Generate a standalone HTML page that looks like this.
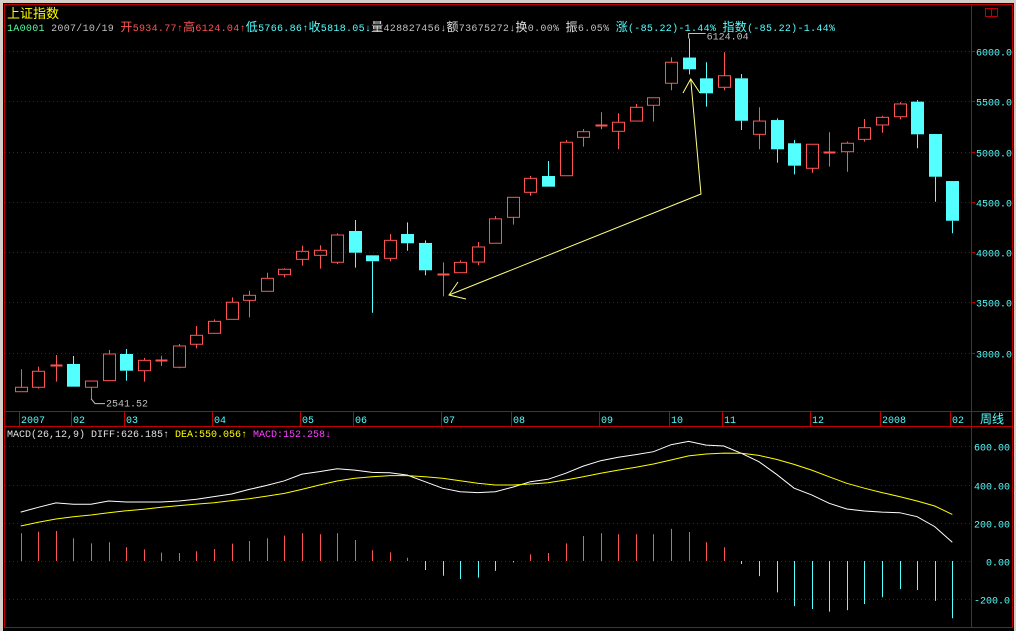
<!DOCTYPE html>
<html><head><meta charset="utf-8">
<style>
html,body{margin:0;padding:0;background:#000;}
body{width:1016px;height:631px;overflow:hidden;position:relative;}
svg{position:absolute;left:0;top:0;}
text{font-family:"Liberation Mono","Noto Sans CJK SC",monospace;font-size:10px;}
.cjk{font-family:"Liberation Mono","Noto Sans CJK SC",sans-serif;font-size:12px;}
</style></head>
<body>
<svg id="chart" width="1016" height="631">
<rect x="0" y="0" width="1016" height="631" fill="#000"/>
<rect x="0" y="0" width="1016" height="3" fill="#d4d0c8"/>
<rect x="0" y="0" width="3" height="631" fill="#d4d0c8"/>
<rect x="1014" y="0" width="2" height="631" fill="#d4d0c8"/>
<g id="frame" stroke="#c00000" stroke-width="1" fill="none">
<line x1="4" y1="4.5" x2="1013" y2="4.5"/>
<line x1="4.5" y1="4" x2="4.5" y2="628"/>
<line x1="1012.5" y1="4" x2="1012.5" y2="628"/>
<line x1="971.5" y1="4" x2="971.5" y2="628"/>
<line x1="4" y1="411.5" x2="1013" y2="411.5"/>
<line x1="4" y1="426.5" x2="1013" y2="426.5"/>
<line x1="4" y1="627.5" x2="1013" y2="627.5"/>
<rect x="985.5" y="8.5" width="12" height="8"/>
<line x1="991.5" y1="8" x2="991.5" y2="17"/>
</g>
<text x="7" y="18" class="cjk" style="font-size:13px" fill="#ffff00">上证指数</text>
<text x="7" y="31" textLength="828" lengthAdjust="spacing"><tspan fill="#54ff9f">1A0001</tspan><tspan fill="#c0c0c0"> 2007/10/19 </tspan><tspan fill="#ff5454" class="cjk">开</tspan><tspan fill="#ff5454">5934.77↑</tspan><tspan fill="#ff5454" class="cjk">高</tspan><tspan fill="#ff5454">6124.04↑</tspan><tspan fill="#54ffff" class="cjk">低</tspan><tspan fill="#54ffff">5766.86↑</tspan><tspan fill="#54ffff" class="cjk">收</tspan><tspan fill="#54ffff">5818.05↓</tspan><tspan fill="#e0e0e0" class="cjk">量</tspan><tspan fill="#c0c0c0">428827456↓</tspan><tspan fill="#e0e0e0" class="cjk">额</tspan><tspan fill="#c0c0c0">73675272↓</tspan><tspan fill="#e0e0e0" class="cjk">换</tspan><tspan fill="#c0c0c0">0.00% </tspan><tspan fill="#e0e0e0" class="cjk">振</tspan><tspan fill="#c0c0c0">6.05% </tspan><tspan fill="#54ffff" class="cjk">涨</tspan><tspan fill="#54ffff">(-85.22)-1.44% </tspan><tspan fill="#54ffff" class="cjk">指数</tspan><tspan fill="#54ffff">(-85.22)-1.44%</tspan></text>
<text x="7" y="437"><tspan fill="#e0e0e0">MACD(26,12,9) DIFF:626.185↑</tspan><tspan fill="#ffff00"> DEA:550.056↑</tspan><tspan fill="#ff40ff"> MACD:152.258↓</tspan></text>
<text x="980" y="423" class="cjk" fill="#54ffff">周线</text>
<g id="grid"></g><g id="axes"></g><g id="candles"></g><g id="macd"></g><g id="notes"></g>
</svg>
<script>
const opens =[2610,2654,2860,2886,2654,2720,2985,2819,2925,2853,3082,3191,3330,3519,3609,3774,3927,3967,3898,4209,3967,3937,4179,4090,3778,3794,3900,4087,4345,4594,4756,4759,5141,5250,5201,5303,5460,5679,5934.77,5728,5639,5728,5171,5313,5082,4833,4992,4998,5121,5264,5346,5496,5174,4706];
const closes=[2654,2813,2875,2660,2716,2985,2819,2922,2925,3065,3171,3310,3500,3569,3738,3828,4007,4017,4169,3993,3908,4116,4087,3818,3778,3897,4050,4330,4544,4733,4650,5092,5197,5262,5291,5440,5535,5888,5818.05,5579,5754,5306,5303,5022,4859,5072,4992,5082,5237,5340,5473,5171,4749,4311];
const highs =[2833,2859,2975,2965,2716,3025,3035,2946,2968,3085,3264,3330,3549,3615,3794,3838,4063,4067,4186,4318,3967,4179,4295,4116,3897,3917,4100,4358,4544,4756,4906,5115,5224,5390,5380,5473,5535,5937,6124.04,5888,5987,5771,5440,5330,5115,5072,5191,5098,5323,5356,5490,5513,5174,4706];
const lows  =[2610,2640,2710,2660,2541.52,2720,2720,2710,2866,2843,3042,3191,3330,3350,3609,3748,3864,3834,3880,3844,3396,3907,4013,3768,3559,3794,3870,4087,4272,4560,4650,4759,5048,5221,5022,5303,5297,5609,5766.86,5446,5609,5214,5022,4889,4773,4789,4849,4799,5098,5187,5320,5032,4500,4186];
const diff=[256,281,304,297,297,314,309,309,309,314,323,337,351,375,396,420,455,468,483,476,464,462,450,415,381,363,358,363,387,415,428,459,497,525,543,557,572,609,626,607,602,564,520,454,381,346,302,272,262,256,253,232,180,98];
const dea =[183,203,220,232,241,253,263,271,281,290,298,305,316,326,340,354,375,398,419,433,441,447,447,441,433,420,407,398,398,403,410,424,441,459,476,491,508,529,550,560,565,564,553,532,506,476,441,407,381,358,337,314,288,244];
const macdBars=[145,154,157,119,92,98,72,61,44,42,51,63,91,105,119,133,145,140,145,110,56,45,17,-47,-77,-94,-87,-52,-7,35,42,92,131,145,140,140,140,168,152,98,72,-16,-79,-164,-236,-251,-265,-257,-225,-190,-147,-152,-209,-300];
const priceTicks=[6000,5500,5000,4500,4000,3500,3000];
const priceTickLabels=["6000.0","5500.0","5000.0","4500.0","4000.0","3500.0","3000.0"];
const macdTicks=[600,400,200,0,-200];
const macdTickLabels=["600.00","400.00","200.00","0.00","-200.0"];
const dateLabels=["2007","02","03","04","05","06","07","08","09","10","11","12","2008","02"];
const dateIdx=[0,3,6,11,16,19,24,28,33,37,40,45,49,53];

const NS="http://www.w3.org/2000/svg";
const xI=i=>20.7+i*17.577;
const yP=v=>51+(6000-v)*0.1005;
const yM=v=>561-v*0.191;
function mk(tag,attrs,parent){const e=document.createElementNS(NS,tag);for(const k in attrs)e.setAttribute(k,attrs[k]);parent.appendChild(e);return e;}
const G=id=>document.getElementById(id);
const RED="#ff5454",CYAN="#54ffff";

priceTicks.forEach((t,k)=>{
  const y=Math.round(yP(t))+0.5;
  const l=mk('line',{x1:5,x2:971,y1:y,y2:y,stroke:'#900000','stroke-dasharray':'1,3'},G('grid'));
  
  
  const tk=mk('line',{x1:971,x2:975,y1:y,y2:y,stroke:'#c00000'},G('axes'));
  
  
  const tx=mk('text',{x:976,y:y+4,fill:CYAN},G('axes'));tx.textContent=priceTickLabels[k];
  
  
});
macdTicks.forEach((t,k)=>{
  const y=Math.round(yM(t))+0.5;
  const l=mk('line',{x1:5,x2:971,y1:y,y2:y,stroke:'#900000','stroke-dasharray':'1,3'},G('grid'));
  
  
  const tx=mk('text',{x:1010,y:y+4,fill:CYAN,'text-anchor':'end'},G('axes'));tx.textContent=macdTickLabels[k];
  
  
});
dateLabels.forEach((d,k)=>{
  const x=Math.round(xI(dateIdx[k]));
  const l=mk('line',{x1:x-1.5,x2:x-1.5,y1:412,y2:426,stroke:'#c00000'},G('axes'));
  
  
  const tx=mk('text',{x:x,y:423,fill:CYAN},G('axes'));tx.textContent=d;
  
  
});

opens.forEach((o,i)=>{
  const c=closes[i],h=highs[i],lo=lows[i];
  const x=Math.round(xI(i))+0.5;
  const up=c>=o, col=up?RED:CYAN;
  const g=mk('g',{},G('candles'));
  
  
  const top=yP(Math.max(o,c)),bot=yP(Math.min(o,c));
  mk('line',{x1:x,x2:x,y1:yP(h),y2:top,stroke:col},g);
  mk('line',{x1:x,x2:x,y1:bot,y2:yP(lo),stroke:col},g);
  if(bot-top<2){mk('line',{x1:x-6,x2:x+6,y1:Math.round(top)+0.5,y2:Math.round(top)+0.5,stroke:col,'stroke-width':up?2:1},g);}
  else if(up){mk('rect',{x:x-6,y:top,width:12,height:bot-top,fill:'none',stroke:col},g);}
  else{mk('rect',{x:x-6.5,y:top,width:13,height:bot-top,fill:col},g);}
});

macdBars.forEach((v,i)=>{
  const x=Math.round(xI(i))+0.5;
  const b=mk('line',{x1:x,x2:x,y1:yM(0),y2:yM(v),stroke:v>=0?RED:CYAN},G('macd'));
  
  
});
const pl=(arr)=>arr.map((v,i)=>xI(i).toFixed(1)+','+yM(v).toFixed(1)).join(' ');
const dl=mk('polyline',{points:pl(diff),fill:'none',stroke:'#ffffff'},G('macd'));


const el=mk('polyline',{points:pl(dea),fill:'none',stroke:'#ffff00'},G('macd'));



const n=G('notes');
const lowI=4,hiI=38;
const lx=xI(lowI),ly=yP(lows[lowI]);
mk('polyline',{points:`${lx},${ly} ${lx+4},${ly+5} ${lx+14},${ly+5}`,fill:'none',stroke:'#c0c0c0'},n);
const lt=mk('text',{x:lx+15,y:ly+8,fill:'#c0c0c0'},n);lt.textContent=lows[lowI].toFixed(2);


const hx=xI(hiI),hy=yP(highs[hiI]);
mk('polyline',{points:`${hx},${hy} ${hx},${hy-5} ${hx+17},${hy-5}`,fill:'none',stroke:'#c0c0c0'},n);
const ht=mk('text',{x:hx+18,y:hy+1,fill:'#c0c0c0'},n);ht.textContent=highs[hiI].toFixed(2);


const ar=mk('g',{stroke:'#ffff80',fill:'none'},n);


mk('polyline',{points:'449,295 701,194 690.7,79'},ar);
mk('polyline',{points:'683,93 690.7,79 700,93'},ar);
mk('polyline',{points:'458,282 449,295 466,299'},ar);
</script>
</body></html>
